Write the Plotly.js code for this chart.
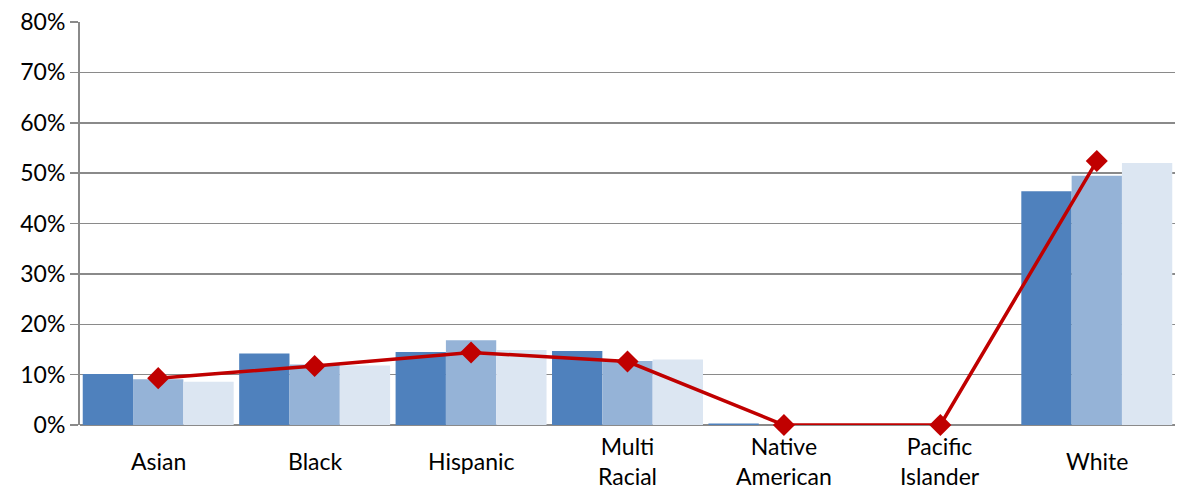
<!DOCTYPE html>
<html>
<head>
<meta charset="utf-8">
<script src="https://cdn.plot.ly/plotly-3.0.1.min.js"></script>
<style>html,body{margin:0;padding:0;background:#fff}#chart{width:1184px;height:489px}</style>
</head>
<body>
<div id="chart"></div>
<script>
const categories = ["Asian", "Black", "Hispanic", "Multi Racial", "Native American", "Pacific Islander", "White"];
const labels = ["Asian", "Black", "Hispanic", "Multi<br>Racial", "Native<br>American", "Pacific<br>Islander", "White"];
const series1 = [10.1, 14.2, 14.5, 14.7, 0.3, 0, 46.4];
const series2 = [9.1, 12.0, 16.8, 12.7, 0, 0, 49.5];
const series3 = [8.6, 11.8, 14.9, 13.0, 0, 0, 52.0];
const lineSeries = [9.3, 11.7, 14.4, 12.6, 0, 0, 52.4];
const yTicks = [0, 10, 20, 30, 40, 50, 60, 70, 80];

const font = "Lato, 'Open Sans', sans-serif";
const barColors = ["#4F81BD", "#95B3D7", "#DCE6F2"];
const traces = [series1, series2, series3].map((s, i) => ({
  type: "bar", x: categories, y: s, marker: {color: barColors[i], line: {width: 0}},
  showlegend: false, hoverinfo: "none"
}));
traces.push({
  type: "scatter", mode: "lines+markers", x: categories, y: lineSeries,
  line: {color: "#C00000", width: 3.5},
  marker: {symbol: "diamond", size: 17, color: "#C00000"},
  showlegend: false, hoverinfo: "none", cliponaxis: false
});

const annotations = categories.map((c, i) => ({
  x: c, xref: "x", y: -0.09, yref: "paper", yanchor: "middle", xanchor: "center",
  text: labels[i], showarrow: false, font: {family: font, size: 23, color: "#000"}
}));

const layout = {
  width: 1184, height: 489,
  margin: {l: 80, r: 9, t: 22, b: 64},
  paper_bgcolor: "#fff", plot_bgcolor: "#fff",
  barmode: "group", bargap: 0.035, bargroupgap: 0,
  xaxis: {type: "category", showticklabels: false, showgrid: false, zeroline: false,
          showline: false, ticks: ""},
  yaxis: {range: [0, 80], tickvals: yTicks, ticktext: yTicks.map(v => v + "%"),
          showgrid: true, gridcolor: "#8a8a8a", gridwidth: 1.5,
          zeroline: true, zerolinecolor: "#8a8a8a", zerolinewidth: 2,
          showline: true, linecolor: "#8a8a8a", linewidth: 2,
          ticks: "outside", ticklen: 8, tickcolor: "#8a8a8a", tickwidth: 1.5,
          tickfont: {family: font, size: 23, color: "#000"}, fixedrange: true},
  annotations: annotations
};
Plotly.newPlot("chart", traces, layout, {displayModeBar: false, staticPlot: true});
</script>
</body>
</html>
